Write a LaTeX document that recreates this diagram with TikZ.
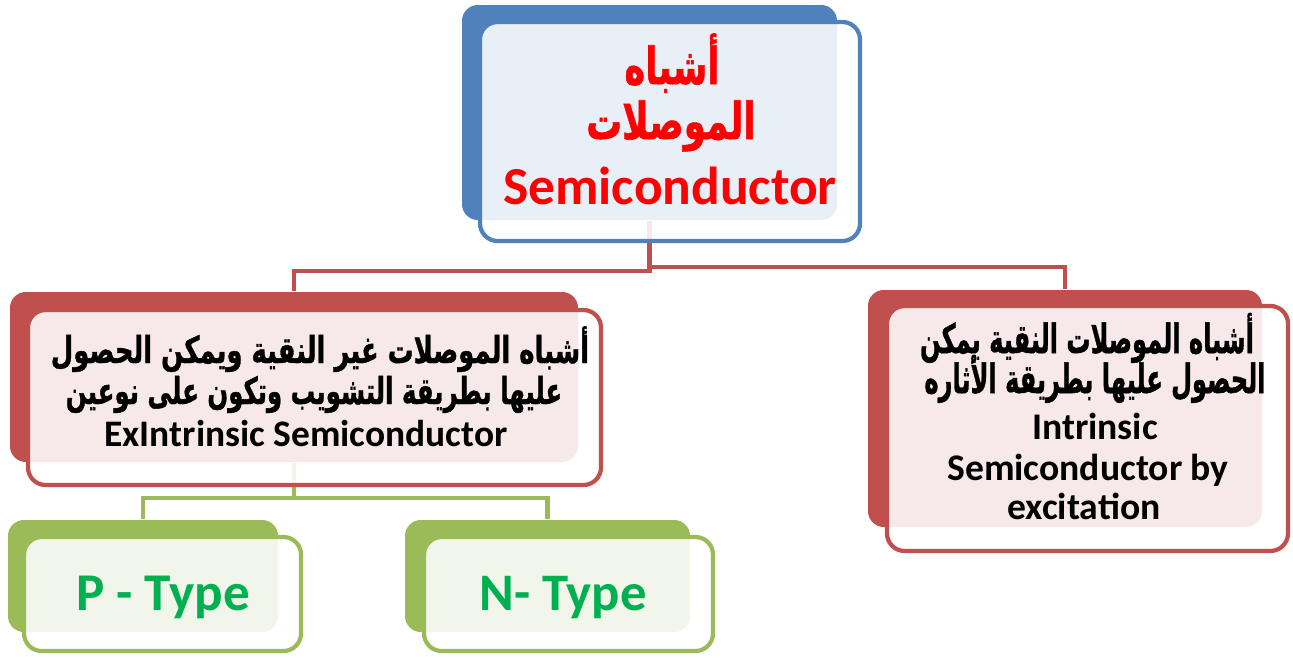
\documentclass[tikz,border=0pt]{standalone}
\usepackage{fontspec}
\setmainfont{Carlito}
\newfontfamily\arabicfont[Script=Arabic, BoldFeatures={FakeBold=1.2}]{DejaVu Sans}
\TeXXeTstate=1
\usetikzlibrary{fit}

\definecolor{rootblue}{HTML}{4F81BD}
\definecolor{branchred}{HTML}{C0504D}
\definecolor{leafgreen}{HTML}{9BBB59}
\definecolor{titlered}{HTML}{FF0000}
\definecolor{typegreen}{HTML}{00B050}

% bold Arabic line, narrowed horizontally by the factor #1
\newcommand{\ar}[2]{\scalebox{#1}[1]{\arabicfont\bfseries #2}}

\tikzset{
  backbox/.style={rounded corners=4.5pt, inner sep=0pt, draw=none, fill=#1},
  frontbox/.style={rounded corners=5pt, inner sep=0pt, draw=#1, line width=1.2pt,
                   fill=white, fill opacity=0.88},
  link/.style={draw=#1, line width=1.15pt},
  line/.style={anchor=base, inner sep=0pt, font=\bfseries}
}

\begin{document}
\begin{tikzpicture}[x=0.01cm, y=-0.01cm]
\useasboundingbox (0,0) rectangle (1293,657);

% back plates
\node[backbox=rootblue,   fit={(462,5) (837,220)}]   (rootback)  {};
\node[backbox=branchred,  fit={(10,292) (578,462)}]  (extback)   {};
\node[backbox=branchred,  fit={(868,290) (1262,527)}] (intback)  {};
\node[backbox=leafgreen,  fit={(8,520) (278,632)}]   (pback)     {};
\node[backbox=leafgreen,  fit={(405,520) (690,632)}] (nback)     {};

% connectors (under the front panels)
\draw[link=branchred] (rootback.south) -- ++(0,50) -| (extback.north);
\draw[link=branchred] (rootback.south) -- ++(0,46) -| (intback.north);
\draw[link=leafgreen] (extback.south) -- ++(0,35) -| (pback.north);
\draw[link=leafgreen] (extback.south) -- ++(0,35) -| (nback.north);

% front panels
\node[frontbox=rootblue,  fit={(480,22) (860,241)}]   (root) {};
\node[frontbox=branchred, fit={(28,310) (601,485)}]   (ext)  {};
\node[frontbox=branchred, fit={(887,306) (1288,551)}] (int)  {};
\node[frontbox=leafgreen, fit={(24,537) (301,651)}]   (ptype) {};
\node[frontbox=leafgreen, fit={(424,537) (713,651)}]  (ntype) {};

% root labels
\begin{scope}[text=titlered]
  \node[line, font=\bfseries\fontsize{14.5}{16}\selectfont] (roota) at (672,84)  {\ar{0.69}{\beginR أشباه\endR}};
  \node[line, font=\bfseries\fontsize{14.5}{16}\selectfont] (rootb) at (671,139) {\ar{0.7}{\beginR الموصلات\endR}};
  \node[line, font=\bfseries\fontsize{15.2}{17}\selectfont] (rootc) at (670,204) {Semiconductor};
\end{scope}

% extrinsic branch labels
\node[line, font=\bfseries\fontsize{10.5}{12}\selectfont] (exta) at (320,363) {\ar{0.7}{\beginR أشباه الموصلات غير النقية ويمكن الحصول\endR}};
\node[line, font=\bfseries\fontsize{10.5}{12}\selectfont] (extb) at (314,404) {\ar{0.662}{\beginR عليها بطريقة التشويب وتكون على نوعين\endR}};
\node[line, font=\bfseries\fontsize{10.65}{12}\selectfont] (extc) at (306,446) {ExIntrinsic Semiconductor};

% intrinsic branch labels
\node[line, font=\bfseries\fontsize{11.5}{13}\selectfont] (inta) at (1087,353) {\ar{0.595}{\beginR أشباه الموصلات النقية يمكن\endR}};
\node[line, font=\bfseries\fontsize{11.5}{13}\selectfont] (intb) at (1095,393) {\ar{0.595}{\beginR الحصول عليها بطريقة الأثاره\endR}};
\node[line, font=\bfseries\fontsize{10.7}{12}\selectfont] (intc) at (1095,439) {Intrinsic};
\node[line, font=\bfseries\fontsize{10.7}{12}\selectfont] (intd) at (1088,480) {Semiconductor by};
\node[line, font=\bfseries\fontsize{10.7}{12}\selectfont] (inte) at (1084,519) {excitation};

% leaf labels
\node[line, text=typegreen, font=\bfseries\fontsize{15.1}{17}\selectfont] (ptext) at (163,610) {P - Type};
\node[line, text=typegreen, font=\bfseries\fontsize{15}{17}\selectfont] (ntext) at (563,610) {N- Type};
\end{tikzpicture}
\end{document}
